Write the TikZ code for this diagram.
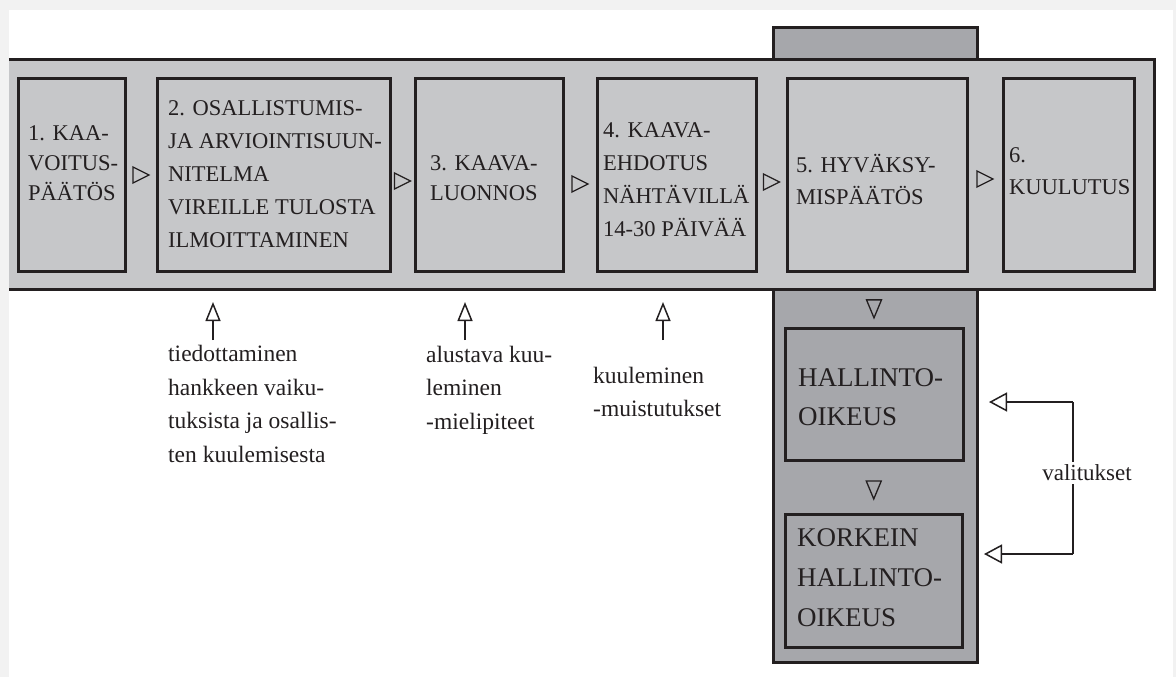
\documentclass[tikz,border=0pt]{standalone}
\usepackage{fontspec}
\setmainfont{Liberation Serif}
\usetikzlibrary{arrows.meta,calc,fit}
\definecolor{pagebg}{HTML}{F2F2F2}
\definecolor{lightg}{HTML}{C6C7C9}
\definecolor{darkg}{HTML}{A6A7AB}
\definecolor{ink}{HTML}{231F20}
\begin{document}
\begin{tikzpicture}[x=1pt,y=-1pt,
  stepbox/.style={draw=ink, line width=3pt, fill=lightg, rectangle, inner sep=0pt},
  courtbox/.style={draw=ink, line width=3pt, fill=darkg, rectangle, inner sep=0pt},
  boxtext/.style={anchor=west, align=left, inner sep=0pt, text=ink},
  smalltext/.style={anchor=west, align=left, inner sep=0pt, text=ink, font=\fontsize{23.5}{33.5}\selectfont},
  tri/.style={draw=ink, line width=1.3pt, line join=miter},
  uparrow/.style={draw=ink, line width=1.5pt, -{Triangle[open, length=19pt, width=15pt, line width=1.5pt]}},
  lefttip/.style={draw=ink, line width=1.5pt, -{Triangle[open, length=18pt, width=19pt, line width=1.5pt]}},
  rtri/.pic={\draw[tri] (-8,-8) -- (8,0) -- (-8,8) -- cycle;},
  dtri/.pic={\draw[tri] (-7.5,-9) -- (7.5,-9) -- (0,9) -- cycle;}
]
\useasboundingbox (0,0) rectangle (1176,677);
% page
\fill[pagebg] (0,0) rectangle (1176,677);
\fill[white] (9,10) rectangle (1173,677);

% vertical column (tab above and below band)
\node[courtbox, fit={(773,28) (977,662)}] (col) {};

% main band
\node[fill=lightg, inner sep=0pt, fit={(9,60) (1154,289)}] (band) {};
\draw[ink, line width=3pt, line join=miter] (band.north west) -- (band.north east) -- (band.south east) -- (band.south west);

% step boxes
\node[stepbox, fit={(18,79) (125,271)}] (b1) {};
\node[stepbox, fit={(157,79) (390,271)}] (b2) {};
\node[stepbox, fit={(415,79) (563,271)}] (b3) {};
\node[stepbox, fit={(597,79) (756,271)}] (b4) {};
\node[stepbox, fit={(787,79) (967,271)}] (b5) {};
\node[stepbox, fit={(1003,79) (1134,271)}] (b6) {};

\node[boxtext, font=\fontsize{22.5}{30}\selectfont] (t1) at (28,163) {1. KAA-\\VOITUS-\\PÄÄTÖS};
\node[boxtext, font=\fontsize{22.5}{33}\selectfont] (t2) at (168,174) {2. OSALLISTUMIS-\\JA ARVIOINTISUUN-\\NITELMA\\VIREILLE TULOSTA\\ILMOITTAMINEN};
\node[boxtext, font=\fontsize{22.5}{30}\selectfont] (t3) at (430,178) {3. KAAVA-\\LUONNOS};
\node[boxtext, font=\fontsize{22.5}{33}\selectfont] (t4) at (603,180) {4. KAAVA-\\EHDOTUS\\NÄHTÄVILLÄ\\14-30 PÄIVÄÄ};
\node[boxtext, font=\fontsize{22.5}{32}\selectfont] (t5) at (796,179) {5. HYVÄKSY-\\MISPÄÄTÖS};
\node[boxtext, font=\fontsize{22.5}{32}\selectfont] (t6) at (1009,171) {6.\\KUULUTUS};

% arrows between steps
\path ($(b1.east)!0.5!(b2.west)$) pic {rtri};
\path ($(b2.east)!0.5!(b3.west)+(0,6)$) pic {rtri};
\path ($(b3.east)!0.5!(b4.west)+(0,9)$) pic {rtri};
\path ($(b4.east)!0.5!(b5.west)+(0,7)$) pic {rtri};
\path ($(b5.east)!0.5!(b6.west)+(0,4)$) pic {rtri};

% court boxes
\node[courtbox, fit={(785,328) (963,460)}] (ho) {};
\node[courtbox, fit={(785,514) (962,647)}] (kho) {};
\node[boxtext, font=\fontsize{27}{39}\selectfont] (tho) at (798,397) {HALLINTO-\\OIKEUS};
\node[boxtext, font=\fontsize{27}{40}\selectfont] (tkho) at (797,578) {KORKEIN\\HALLINTO-\\OIKEUS};

\path ($(band.south -| ho.north)!0.5!(ho.north)+(0,1)$) pic {dtri};
\path ($(ho.south)!0.5!(kho.north)+(0,3)$) pic {dtri};

% lower notes with up arrows
\node[smalltext] (l1) at (168,404) {tiedottaminen\\hankkeen vaiku-\\tuksista ja osallis-\\ten kuulemisesta};
\node[smalltext] (l2) at (426,390) {alustava kuu-\\leminen\\-mielipiteet};
\node[smalltext] (l3) at (593,392) {kuuleminen\\-muistutukset};

\coordinate (u1) at (213,340);
\coordinate (u2) at (465,340);
\coordinate (u3) at (663,340);
\draw[uparrow] (u1) -- ++(0,-38);
\draw[uparrow] (u2) -- ++(0,-38);
\draw[uparrow] (u3) -- ++(0,-38);

% appeals bracket
\coordinate (vtop) at (1073,402);
\coordinate (vbot) at (1073,554);
\draw[ink, line width=1.5pt] (vtop) -- (vbot);
\draw[lefttip] (vtop) -- (989,402);
\draw[lefttip] (vbot) -- (984,554);
\node[fill=white, inner xsep=1pt, inner ysep=3pt, text=ink, font=\fontsize{23}{28}\selectfont] (val) at (1087,473) {valitukset};
\end{tikzpicture}
\end{document}
